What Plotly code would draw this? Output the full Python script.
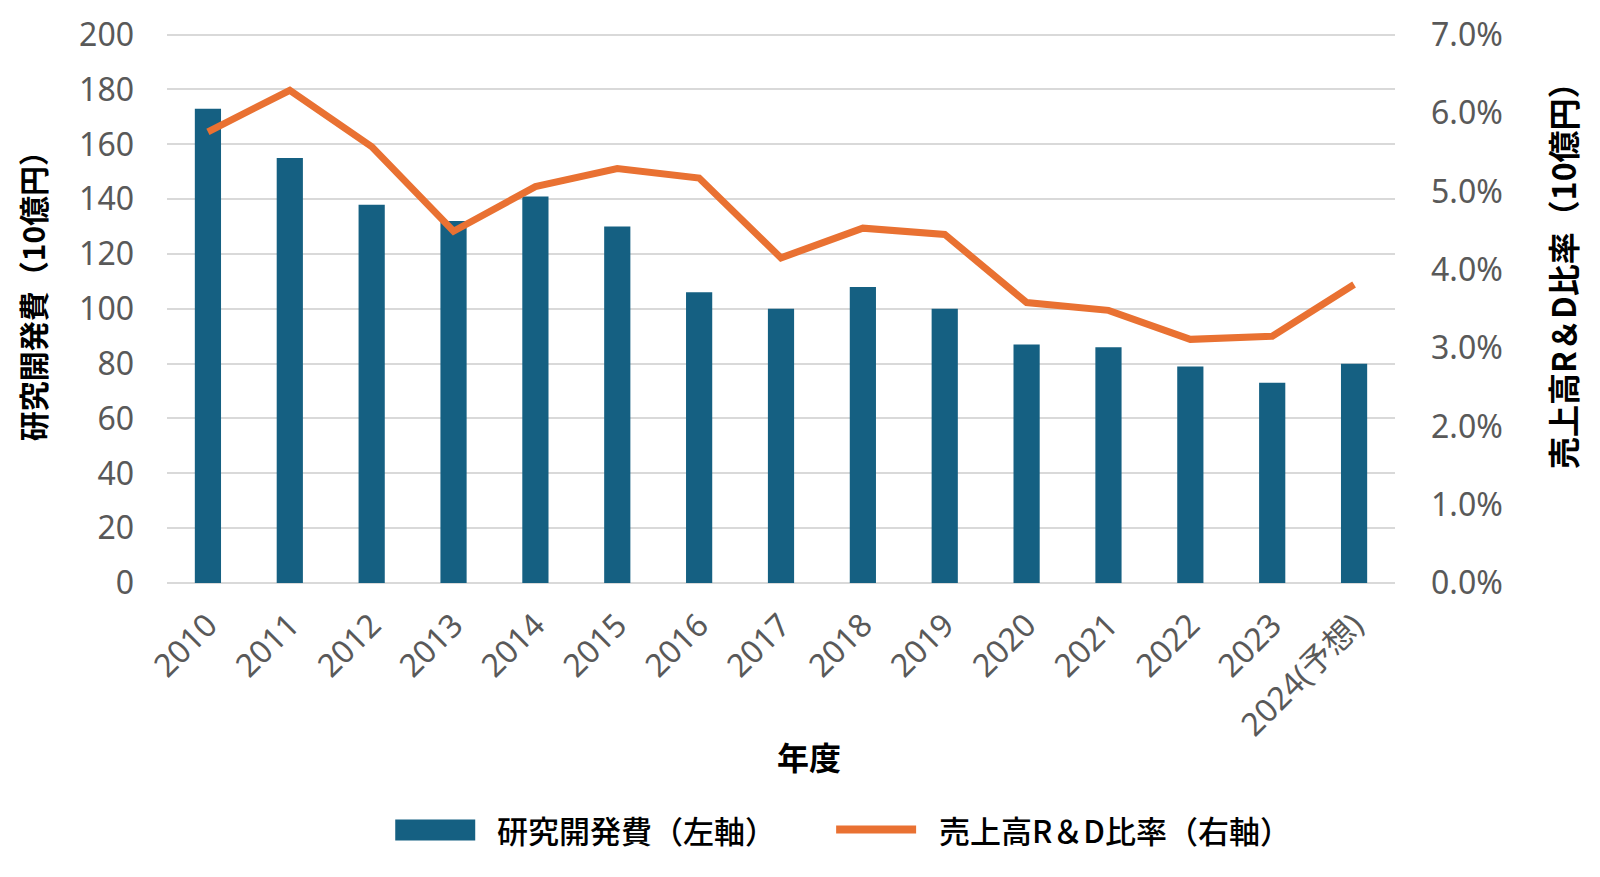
import plotly.graph_objects as go

years = ["2010", "2011", "2012", "2013", "2014", "2015", "2016", "2017",
         "2018", "2019", "2020", "2021", "2022", "2023", "2024(予想)"]
rd_expense = [173, 155, 138, 132, 141, 130, 106, 100, 108, 100, 87, 86, 79, 73, 80]
rd_ratio = [0.0576, 0.0629, 0.0557, 0.0449, 0.0506, 0.0529, 0.0517, 0.0415,
            0.0453, 0.0445, 0.0358, 0.0348, 0.0311, 0.0315, 0.0381]
left_ticks = [0, 20, 40, 60, 80, 100, 120, 140, 160, 180, 200]
right_ticks = [0, 0.01, 0.02, 0.03, 0.04, 0.05, 0.06, 0.07]

bar_name = "研究開発費（左軸）"
line_name = "売上高R＆D比率（右軸）"
left_title = "研究開発費（10億円）"
right_title = "売上高R＆D比率（10億円）"
x_title = "年度"

BAR = "#156082"
LINE = "#E97132"
GRID = "#D9D9D9"
TICK = "#595959"
FONT = "Noto Sans, Noto Sans CJK JP, sans-serif"
CJK = "Noto Sans CJK JP, sans-serif"

W, H = 1600, 877
OFF = 8  # page body margin
# desired plot box in page coordinates
PX0, PX1, PY0, PY1 = 166.7, 1395, 33.3, 582.7
L = PX0 - OFF
R = W - (PX1 - OFF)
T = PY0 - OFF
B = H - (PY1 - OFF)

fig = go.Figure()
fig.add_trace(go.Bar(x=years, y=rd_expense, name=bar_name, marker_color=BAR,
                     marker_line_width=0, yaxis="y", showlegend=False))
fig.add_trace(go.Scatter(x=years, y=rd_ratio, name=line_name, mode="lines",
                         line=dict(color=LINE, width=7), yaxis="y2",
                         showlegend=False))

pw = PX1 - PX0
ph = PY1 - PY0

def px(xp):
    return (xp - PX0) / pw

def py(yp):
    return (PY1 - yp) / ph

fig.update_layout(
    width=W, height=H,
    margin=dict(l=L, r=R, t=T, b=B, autoexpand=False),
    plot_bgcolor="white", paper_bgcolor="white",
    bargap=0.68,
    font=dict(family=FONT, color=TICK),
    xaxis=dict(type="category", tickangle=-45, tickfont=dict(size=32, color=TICK, family=FONT),
               ticklabelstandoff=16,
               showgrid=False, showline=False, ticks="", automargin=False),
    yaxis=dict(range=[0, 200.6], tickvals=left_ticks, showgrid=True, gridcolor=GRID,
               gridwidth=2, zeroline=True, zerolinecolor=GRID, zerolinewidth=2,
               tickfont=dict(size=32, color=TICK, family=FONT), ticklabelstandoff=32,
               showline=False, ticks="", automargin=False),
    yaxis2=dict(range=[0, 0.07 * 200.6 / 200], tickvals=right_ticks, tickformat=".1%",
                overlaying="y", side="right", showgrid=False, zeroline=False,
                tickfont=dict(size=32, color=TICK, family=FONT), ticklabelstandoff=35,
                showline=False, ticks="", automargin=False),
    showlegend=False,
)

annotations = [
    dict(text=f"<b>{left_title}</b>", x=px(32), y=py(289), xref="paper", yref="paper",
         textangle=-90, showarrow=False, font=dict(size=30, color="black", family=CJK),
         xanchor="center", yanchor="middle"),
    dict(text=f"<b>{right_title}</b>", x=px(1562), y=py(268), xref="paper", yref="paper",
         textangle=-90, showarrow=False, font=dict(size=32, color="black", family=CJK),
         xanchor="center", yanchor="middle"),
    dict(text=f"<b>{x_title}</b>", x=px(809), y=py(756), xref="paper", yref="paper",
         showarrow=False, font=dict(size=32, color="black", family=CJK),
         xanchor="center", yanchor="middle"),
    dict(text=bar_name, x=px(495), y=py(829), xref="paper", yref="paper",
         showarrow=False, font=dict(size=31, color="black", family=CJK, weight=500),
         xanchor="left", yanchor="middle"),
    dict(text=line_name, x=px(937), y=py(829), xref="paper", yref="paper",
         showarrow=False, font=dict(size=31, color="black", family=CJK, weight=500),
         xanchor="left", yanchor="middle"),
]
fig.update_layout(annotations=annotations)

shapes = [
    dict(type="rect", xref="paper", yref="paper", x0=px(395), x1=px(475),
         y0=py(840), y1=py(819), fillcolor=BAR, line_width=0),
    dict(type="line", xref="paper", yref="paper", x0=px(836), x1=px(916),
         y0=py(829), y1=py(829), line=dict(color=LINE, width=8)),
]
fig.update_layout(shapes=shapes)

fig.write_html("out.html")
